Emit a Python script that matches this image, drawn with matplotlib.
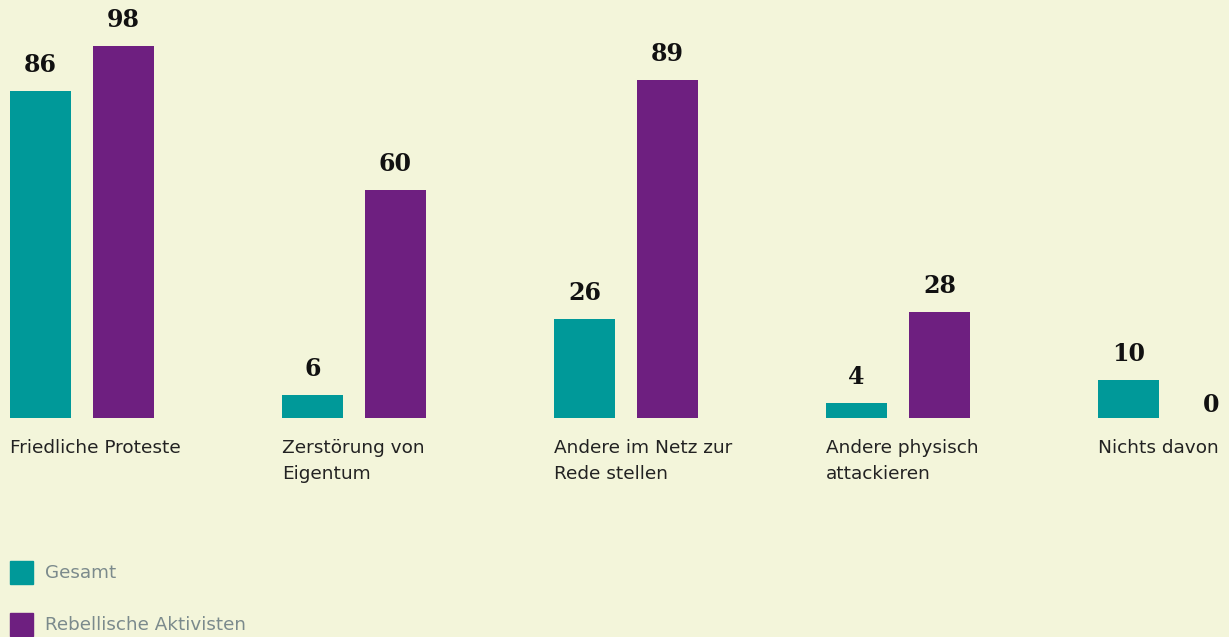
import matplotlib.pyplot as plt
from matplotlib.patches import Rectangle
import numpy as np

# data
categories = ['Friedliche Proteste', 'Zerstörung von\nEigentum', 'Andere im Netz zur\nRede stellen',
              'Andere physisch\nattackieren', 'Nichts davon']
gesamt = [86, 6, 26, 4, 10]
rebellisch = [98, 60, 89, 28, 0]
series_names = ['Gesamt', 'Rebellische Aktivisten']

BG = '#f3f5da'
TEAL = '#009999'
PURPLE = '#6e1f80'
W, H = 1229, 637

fig = plt.figure(figsize=(W / 100, H / 100), dpi=100, facecolor=BG)
# axes: baseline at 418 px from top, 3.8 px per unit, group spacing 272 px
base = 418
ax = fig.add_axes([0, (H - base) / H, 1, base / H])
ax.set_facecolor(BG)
ax.set_ylim(0, base / 3.8)
ax.set_xlim(-10 / 272, (W - 10) / 272)
ax.axis('off')

x = np.arange(len(categories))
bw = 61 / 272
off = 83 / 272
b1 = ax.bar(x, gesamt, width=bw, align='edge', color=TEAL)
b2 = ax.bar(x + off, rebellisch, width=bw, align='edge', color=PURPLE)

for bars, vals in [(b1, gesamt), (b2, rebellisch)]:
    for b, v in zip(bars, vals):
        ax.annotate(str(v), xy=(b.get_x() + b.get_width() / 2, v), xytext=(0, 10 if v > 0 else 1),
                    textcoords='offset points', ha='center', va='bottom',
                    fontsize=17, fontweight='bold', family='DejaVu Serif', color='#111111')

for i, lab in enumerate(categories):
    ax.annotate(lab, xy=(i, 0), xytext=(0, -15), textcoords='offset points',
                ha='left', va='top', fontsize=13.3, family='DejaVu Sans', color='#222222',
                linespacing=1.55, annotation_clip=False)

# legend
for k, (name, col) in enumerate(zip(series_names, [TEAL, PURPLE])):
    top = 561 + 52 * k
    fig.add_artist(Rectangle((10 / W, (H - top - 23) / H), 23 / W, 23 / H,
                             transform=fig.transFigure, color=col))
    fig.text(45 / W, (H - top - 12) / H, name, ha='left', va='center',
             fontsize=13.2, family='DejaVu Sans', color='#7b8a8c')

fig.savefig('out.png', dpi=100, facecolor=BG)
